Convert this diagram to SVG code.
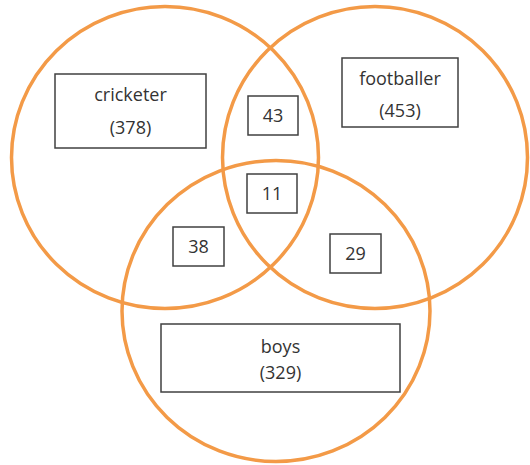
<svg xmlns="http://www.w3.org/2000/svg" width="530" height="465" viewBox="0 0 530 465">
<style>
.c{fill:none;stroke:#F39A47;stroke-width:3.5}
.b{fill:#fff;stroke:#404040;stroke-width:1.5}
.t{font-family:"Open Sans","DejaVu Sans",sans-serif;font-size:18px;fill:#333;text-anchor:middle}
</style>
<rect width="530" height="465" fill="#fff"/>
<g id="circles">
<ellipse class="c" cx="165" cy="157.5" rx="153.5" ry="151"/>
<ellipse class="c" cx="375" cy="157.5" rx="152.5" ry="151"/>
<ellipse class="c" cx="276" cy="311" rx="154" ry="150.5"/>
</g>
<g id="cricketer"><rect class="b" x="55" y="74" width="151" height="74"/><text class="t" x="130.5" y="101">cricketer</text><text class="t" x="130.5" y="134">(378)</text></g>
<g id="footballer"><rect class="b" x="342" y="58" width="116" height="69"/><text class="t" x="400" y="85">footballer</text><text class="t" x="400" y="117">(453)</text></g>
<g id="boys"><rect class="b" x="161" y="324" width="239" height="68"/><text class="t" x="280.5" y="353">boys</text><text class="t" x="280.5" y="379">(329)</text></g>
<g id="n43"><rect class="b" x="248" y="96" width="50" height="39"/><text class="t" x="273" y="122">43</text></g>
<g id="n11"><rect class="b" x="247" y="174" width="50" height="39"/><text class="t" x="272" y="200">11</text></g>
<g id="n38"><rect class="b" x="173" y="227" width="51" height="39"/><text class="t" x="198.5" y="253">38</text></g>
<g id="n29"><rect class="b" x="330" y="234" width="51" height="39"/><text class="t" x="355.5" y="260">29</text></g>
</svg>
